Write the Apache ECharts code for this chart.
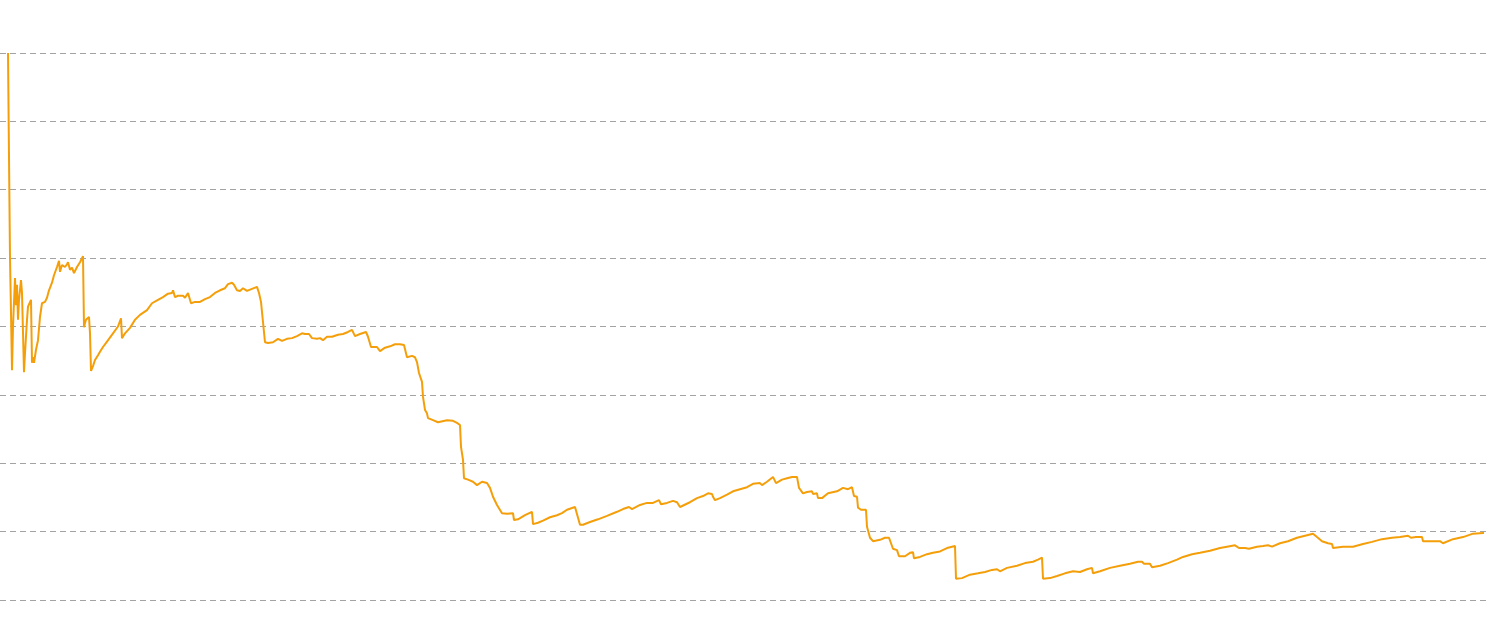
<!DOCTYPE html>
<html>
<head>
<meta charset="utf-8">
<style>
html,body{margin:0;padding:0;background:#fff;}
#chart{width:1490px;height:633px;}
</style>
<script src="https://cdn.jsdelivr.net/npm/echarts@6/dist/echarts.min.js"></script>
</head>
<body>
<div id="chart"></div>
<script>
var days = [0,1,2,3,4,5,7,8,9,10,11,13,14,16,17,19,20,23,24,25,26,28,30,32,34,37,39,41,44,46,49,51,52,54,57,59,60,62,64,66,69,72,75,76,77,78,80,81,82,83,85,87,90,92,95,99,100,105,110,113,114,117,122,127,132,139,144,150,155,160,164,165,167,170,175,177,180,183,187,192,197,202,207,212,217,220,224,226,229,232,235,239,244,249,251,253,255,257,260,265,270,274,279,284,289,294,297,301,304,309,312,315,319,324,330,335,340,344,347,352,358,360,363,369,372,377,382,387,392,396,399,404,407,409,411,414,415,417,419,420,422,425,430,432,439,445,449,452,453,455,456,460,465,469,474,479,482,485,489,494,499,505,506,510,517,524,525,530,535,542,549,554,559,567,572,575,582,590,599,609,615,621,624,632,639,645,651,653,659,665,669,672,682,689,695,700,704,705,707,712,719,725,732,739,745,752,754,759,765,768,774,779,784,789,791,795,799,804,805,809,810,814,820,829,835,840,844,846,849,850,853,858,859,862,865,872,877,881,885,889,891,897,902,905,906,912,919,925,932,939,947,948,954,962,970,977,984,989,992,999,1009,1017,1025,1030,1034,1035,1042,1049,1057,1065,1072,1079,1084,1085,1092,1102,1112,1122,1130,1134,1136,1142,1144,1152,1160,1169,1175,1184,1192,1202,1212,1219,1227,1231,1237,1241,1249,1255,1260,1264,1272,1280,1289,1297,1305,1309,1314,1320,1324,1325,1335,1345,1355,1364,1374,1384,1392,1400,1403,1408,1414,1415,1425,1432,1435,1445,1455,1465,1475,1476];
var navValues = [1.000,0.848,0.700,0.620,0.536,0.600,0.671,0.631,0.661,0.610,0.639,0.668,0.649,0.533,0.561,0.610,0.629,0.639,0.547,0.555,0.547,0.566,0.580,0.614,0.634,0.636,0.642,0.653,0.664,0.675,0.687,0.696,0.680,0.690,0.687,0.691,0.694,0.683,0.686,0.678,0.687,0.694,0.703,0.599,0.605,0.610,0.612,0.614,0.590,0.535,0.542,0.551,0.558,0.563,0.570,0.578,0.580,0.590,0.600,0.612,0.583,0.590,0.598,0.610,0.617,0.624,0.634,0.639,0.643,0.648,0.649,0.653,0.643,0.645,0.645,0.642,0.649,0.634,0.636,0.636,0.640,0.643,0.649,0.653,0.656,0.662,0.664,0.661,0.653,0.652,0.656,0.652,0.655,0.658,0.649,0.636,0.634,0.577,0.576,0.577,0.582,0.579,0.582,0.583,0.586,0.590,0.589,0.589,0.583,0.582,0.583,0.580,0.585,0.585,0.588,0.589,0.592,0.595,0.586,0.589,0.592,0.585,0.570,0.570,0.564,0.569,0.571,0.574,0.574,0.573,0.555,0.557,0.555,0.548,0.532,0.519,0.497,0.478,0.473,0.466,0.465,0.463,0.460,0.460,0.463,0.462,0.459,0.456,0.424,0.405,0.378,0.376,0.373,0.368,0.373,0.371,0.364,0.351,0.339,0.327,0.326,0.327,0.317,0.318,0.324,0.329,0.311,0.313,0.316,0.321,0.324,0.327,0.332,0.336,0.310,0.310,0.314,0.318,0.323,0.329,0.333,0.336,0.333,0.339,0.342,0.342,0.346,0.340,0.342,0.345,0.343,0.336,0.343,0.349,0.352,0.356,0.355,0.351,0.346,0.349,0.354,0.359,0.362,0.365,0.370,0.371,0.368,0.373,0.380,0.371,0.376,0.378,0.380,0.380,0.364,0.356,0.358,0.359,0.355,0.356,0.349,0.349,0.356,0.359,0.364,0.362,0.365,0.352,0.351,0.335,0.332,0.332,0.307,0.291,0.286,0.288,0.291,0.291,0.275,0.273,0.264,0.264,0.269,0.270,0.261,0.263,0.267,0.269,0.271,0.276,0.279,0.231,0.232,0.237,0.239,0.241,0.244,0.245,0.242,0.247,0.250,0.254,0.256,0.259,0.262,0.231,0.232,0.235,0.239,0.242,0.241,0.245,0.247,0.239,0.242,0.247,0.250,0.253,0.256,0.256,0.253,0.253,0.248,0.250,0.254,0.259,0.263,0.267,0.269,0.272,0.276,0.278,0.280,0.276,0.276,0.275,0.278,0.279,0.280,0.278,0.283,0.286,0.291,0.294,0.297,0.292,0.286,0.283,0.282,0.276,0.278,0.278,0.282,0.285,0.289,0.291,0.292,0.294,0.291,0.292,0.292,0.286,0.286,0.286,0.283,0.289,0.292,0.297,0.298,0.298];
var yMin = 0.2, yMax = 1.0, yStep = 0.1;
var xMin = -8, xMax = 1479;

var seriesData = days.map(function(d, i){ return [d, navValues[i]]; });

var chart = echarts.init(document.getElementById('chart'), null, {renderer:'canvas'});
chart.setOption({
  animation: false,
  backgroundColor: '#ffffff',
  grid: {left: 0, right: 3, top: 53, bottom: 33, containLabel: false},
  xAxis: {
    type: 'value', min: xMin, max: xMax,
    axisLine: {show: false}, axisTick: {show: false},
    axisLabel: {show: false}, splitLine: {show: false}
  },
  yAxis: {
    type: 'value', min: yMin, max: yMax, interval: yStep,
    axisLine: {show: false}, axisTick: {show: false},
    axisLabel: {show: false},
    splitLine: {show: true, lineStyle: {color: '#a3a3a3', type: [6, 4], width: 1}}
  },
  series: [{
    type: 'line',
    data: seriesData,
    showSymbol: false,
    symbol: 'none',
    lineStyle: {color: '#f49f0a', width: 2},
    itemStyle: {color: '#f49f0a'}
  }]
});
</script>
</body>
</html>
